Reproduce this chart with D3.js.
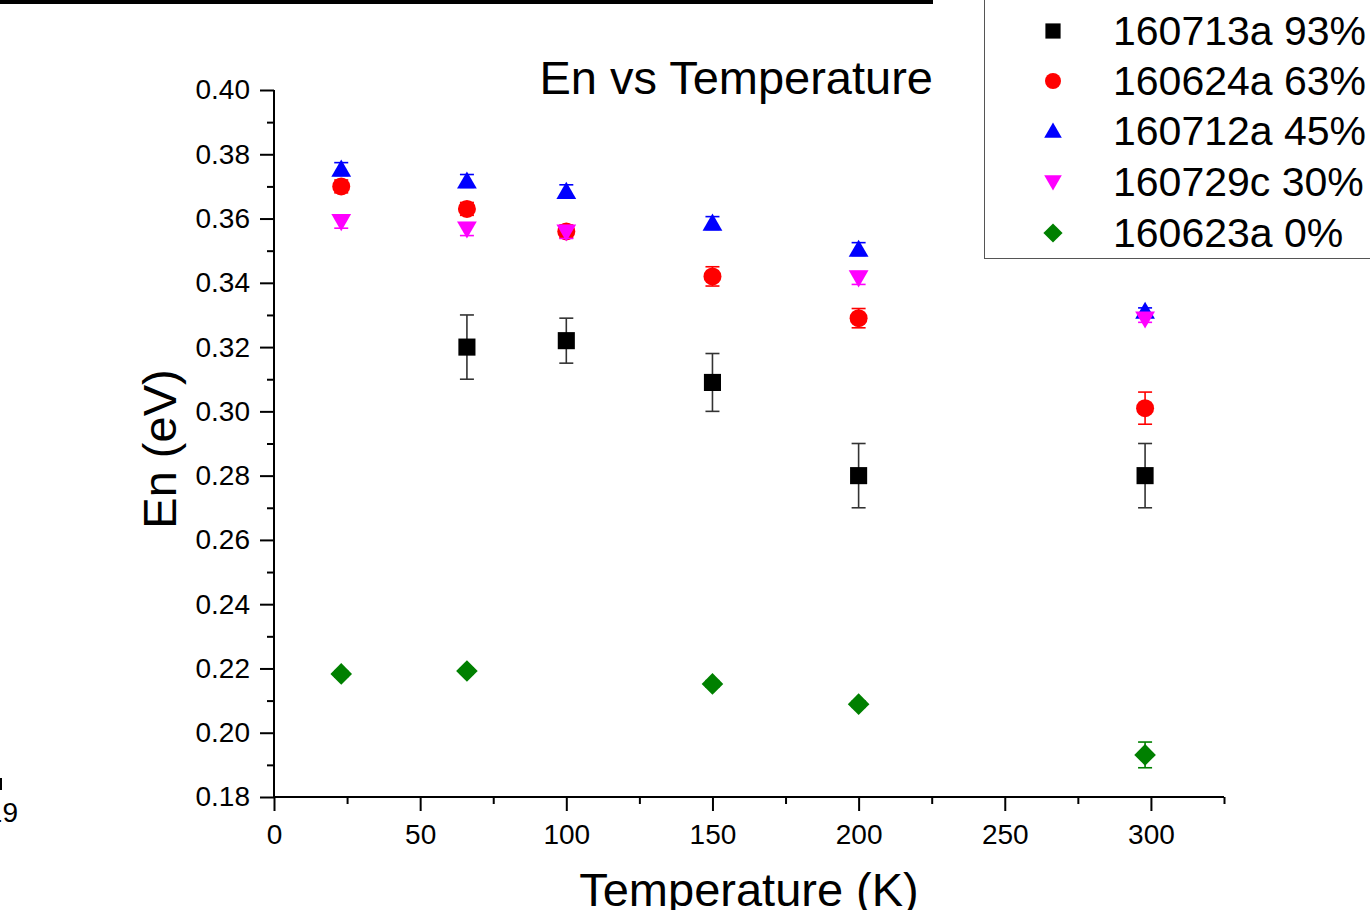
<!DOCTYPE html>
<html><head><meta charset="utf-8">
<script src="https://cdn.jsdelivr.net/npm/d3@7"></script>
<style>body{margin:0;background:#fff;}svg{display:block;font-family:"Liberation Sans",Arial,sans-serif;}</style>
</head><body>
<script>
const seriesNames = ["160713a 93%","160624a 63%","160712a 45%","160729c 30%","160623a 0%"];
const seriesColors = ["#000000","#ff0000","#0000ff","#ff00ff","#008000"];
const seriesShapes = ["square","circle","triUp","triDown","diamond"];
const temps93 = [66,100,150,200,298];
const en93 = [0.320,0.322,0.309,0.280,0.280];
const err93 = [0.010,0.007,0.009,0.010,0.010];
const temps63 = [23,66,100,150,200,298];
const en63 = [0.370,0.363,0.356,0.342,0.329,0.301];
const err63 = [0.002,0.002,0.002,0.003,0.003,0.005];
const temps45 = [23,66,100,150,200,298];
const en45 = [0.3754,0.3717,0.3685,0.3586,0.3505,0.3312];
const err45 = [0.002,0.002,0.002,0.002,0.002,0.001];
const temps30 = [23,66,100,200,298];
const en30 = [0.359,0.3567,0.3558,0.3415,0.3287];
const err30 = [0.002,0.002,0.002,0.002,0.001];
const temps0 = [23,66,150,200,298];
const en0 = [0.2183,0.2192,0.2152,0.2089,0.1931];
const err0 = [0.001,0.001,0.001,0.001,0.004];
const xTicks = [0,50,100,150,200,250,300];
const yTicks = [0.18,0.20,0.22,0.24,0.26,0.28,0.30,0.32,0.34,0.36,0.38,0.40];
const titleText = "En vs Temperature";
const xTitle = "Temperature (K)";
const yTitle = "En (eV)";

const series = [
  {t:temps93,v:en93,e:err93},{t:temps63,v:en63,e:err63},{t:temps45,v:en45,e:err45},
  {t:temps30,v:en30,e:err30},{t:temps0,v:en0,e:err0}
].map((s,i)=>({name:seriesNames[i],color:seriesColors[i],shape:seriesShapes[i],
  pts:s.t.map((t,j)=>({x:t,y:s.v[j],e:s.e[j]}))}));

const W=1370,H=910;
const L=274,R=1224,T=90,B=797;
const svg=d3.select("body").append("svg").attr("width",W).attr("height",H);
const x=d3.scaleLinear().domain([0,325]).range([L,R]);
const y=d3.scaleLinear().domain([0.18,0.40]).range([B,T]);

function shapePath(shape,s){
  const h=s/2;
  if(shape==="square") return `M${-h*0.95},${-h*0.95}H${h*0.95}V${h*0.95}H${-h*0.95}Z`;
  if(shape==="circle") return `M${h},0A${h},${h} 0 1,1 ${-h},0A${h},${h} 0 1,1 ${h},0Z`;
  if(shape==="triUp") return `M0,${-h*1.05}L${h*1.1},${h*0.85}L${-h*1.1},${h*0.85}Z`;
  if(shape==="triDown") return `M0,${h*1.05}L${h*1.1},${-h*0.85}L${-h*1.1},${-h*0.85}Z`;
  if(shape==="diamond") return `M0,${-h*1.2}L${h*1.2},0L0,${h*1.2}L${-h*1.2},0Z`;
}

// top border artifact
svg.append("rect").attr("x",0).attr("y",0).attr("width",933).attr("height",4).attr("fill","#000");
// left artifacts from neighbouring panel
svg.append("line").attr("x1",1).attr("x2",1).attr("y1",778).attr("y2",790).attr("stroke","#000").attr("stroke-width",2);
svg.append("text").attr("x",18).attr("y",822).attr("text-anchor","end").attr("font-size",28).text("19");

// axes
const yAxis=svg.append("g").attr("transform",`translate(${L},0)`)
  .call(d3.axisLeft(y).tickValues(yTicks).tickFormat(d3.format(".2f")).tickSize(14).tickPadding(10).tickSizeOuter(0));
const yMinor=svg.append("g").attr("transform",`translate(${L},0)`)
  .call(d3.axisLeft(y).tickValues(d3.range(0.19,0.40,0.02)).tickFormat("").tickSize(7).tickSizeOuter(0));
const xAxis=svg.append("g").attr("transform",`translate(0,${B})`)
  .call(d3.axisBottom(x).tickValues(xTicks).tickFormat(d3.format("d")).tickSize(14).tickPadding(13).tickSizeOuter(0));
const xMinor=svg.append("g").attr("transform",`translate(0,${B})`)
  .call(d3.axisBottom(x).tickValues([25,75,125,175,225,275,325]).tickFormat("").tickSize(7).tickSizeOuter(0));
[yAxis,yMinor,xAxis,xMinor].forEach(g=>{
  g.selectAll("path,line").attr("stroke","#000").attr("stroke-width",2);
  g.selectAll("text").attr("font-size",28).attr("fill","#000").attr("font-family","Liberation Sans, Arial, sans-serif");
});
yMinor.select("path").remove(); xMinor.select("path").remove();
yAxis.select("path").attr("d",`M0,${B+1}V${T}`);
xAxis.select("path").attr("d",`M${L-1},0H${R}`);

// titles
svg.append("text").attr("x",933).attr("y",94).attr("text-anchor","end").attr("font-size",47).text(titleText);
svg.append("text").attr("x",(L+R)/2).attr("y",906).attr("text-anchor","middle").attr("font-size",47).text(xTitle);
svg.append("text").attr("transform",`translate(176,${449}) rotate(-90)`).attr("text-anchor","middle").attr("font-size",47).text(yTitle);

// error bars and markers
series.forEach(s=>{
  const g=svg.append("g");
  const ebColor = s.color==="#000000" ? "#333" : s.color;
  s.pts.forEach(p=>{
    const cx=x(p.x), y1=y(p.y+p.e), y2=y(p.y-p.e);
    g.append("line").attr("x1",cx).attr("x2",cx).attr("y1",y1).attr("y2",y2).attr("stroke",ebColor).attr("stroke-width",1.6);
    [y1,y2].forEach(yy=>g.append("line").attr("x1",cx-7).attr("x2",cx+7).attr("y1",yy).attr("y2",yy).attr("stroke",ebColor).attr("stroke-width",1.6));
  });
  g.selectAll("path.m").data(s.pts).join("path").attr("class","m")
    .attr("transform",d=>`translate(${x(d.x)},${y(d.y)})`)
    .attr("d",shapePath(s.shape,18)).attr("fill",s.color);
});

// legend
svg.append("rect").attr("x",984.5).attr("y",-10).attr("width",400).attr("height",268.5)
  .attr("fill","#fff").attr("stroke","#555").attr("stroke-width",1);
const legRows=[31,81,131,182,233];
series.forEach((s,i)=>{
  svg.append("path").attr("transform",`translate(1053,${legRows[i]})`).attr("d",shapePath(s.shape,16)).attr("fill",s.color);
  svg.append("text").attr("x",1113).attr("y",legRows[i]).attr("dy","0.35em").attr("font-size",41).text(s.name);
});
</script>
</body></html>
